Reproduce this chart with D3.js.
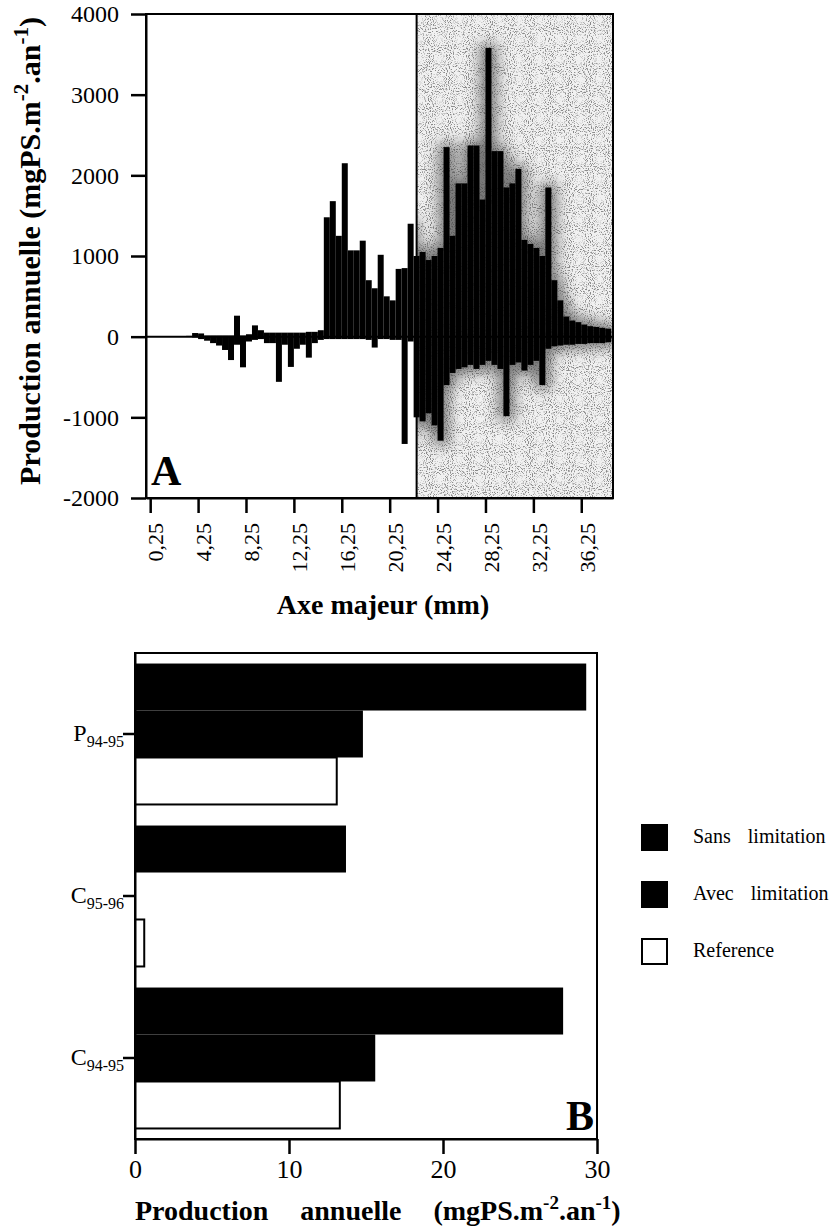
<!DOCTYPE html>
<html>
<head>
<meta charset="utf-8">
<script src="https://cdn.jsdelivr.net/npm/d3@7"></script>
<style>
  body { margin: 0; background: #fff; }
  svg, svg text { font-family: "Liberation Serif", serif; }
</style>
</head>
<body>
<div id="chart"></div>
<script>
// panel A : production per 0.5 mm size class (start of class, mm)
var classStart = [0.25, 0.75, 1.25, 1.75, 2.25, 2.75, 3.25, 3.75, 4.25, 4.75,
    5.25, 5.75, 6.25, 6.75, 7.25, 7.75, 8.25, 8.75, 9.25, 9.75,
    10.25, 10.75, 11.25, 11.75, 12.25, 12.75, 13.25, 13.75, 14.25, 14.75,
    15.25, 15.75, 16.25, 16.75, 17.25, 17.75, 18.25, 18.75, 19.25, 19.75,
    20.25, 20.75, 21.25, 21.75, 22.25, 22.75, 23.25, 23.75, 24.25, 24.75,
    25.25, 25.75, 26.25, 26.75, 27.25, 27.75, 28.25, 28.75, 29.25, 29.75,
    30.25, 30.75, 31.25, 31.75, 32.25, 32.75, 33.25, 33.75, 34.25, 34.75,
    35.25, 35.75, 36.25, 36.75, 37.25, 37.75, 38.25];
var gainVals = [0, 0, 0, 0, 0, 0, 10, 45, 40, 15,
    15, 15, 15, 15, 260, 15, 30, 140, 80, 50,
    50, 50, 50, 50, 50, 50, 60, 60, 80, 1480,
    1680, 1250, 2150, 1070, 1070, 1190, 700, 600, 1015, 500,
    450, 840, 850, 1400, 1000, 1050, 950, 1000, 1100, 2350,
    1250, 1900, 1900, 2370, 2370, 1700, 3580, 2300, 2300, 1850,
    1900, 2080, 1200, 1150, 1100, 1000, 1850, 700, 450, 250,
    200, 180, 150, 130, 120, 110, 100];
var lossVals = [0, 0, 0, 0, 0, 0, 0, -10, -30, -50,
    -80, -110, -165, -290, -100, -380, -60, -40, -30, -80,
    -80, -560, -100, -375, -150, -100, -260, -80, -40, -30,
    -30, -30, -30, -30, -30, -30, -40, -135, -30, -30,
    -40, -40, -1330, -60, -1000, -1050, -950, -1100, -1290, -600,
    -450, -400, -380, -350, -400, -350, -300, -350, -400, -985,
    -350, -320, -420, -350, -300, -600, -150, -120, -110, -100,
    -100, -90, -90, -80, -80, -80, -70];
var xTicksA = [0.25, 4.25, 8.25, 12.25, 16.25, 20.25, 24.25, 28.25, 32.25, 36.25];
var yTicksA = [-2000, -1000, 0, 1000, 2000, 3000, 4000];
var shadeFrom = 22.5;

// panel B
var sites = ["P", "C95", "C94"];
var siteMain = ["P", "C", "C"];
var siteSub = ["94-95", "95-96", "94-95"];
var seriesNames = ["Sans limitation", "Avec limitation", "Reference"];
var sansVals = [29.3, 13.7, 27.8];
var avecVals = [14.8, 0, 15.6];
var refVals = [13.1, 0.6, 13.3];
var xTicksB = [0, 10, 20, 30];

var SERIF = "Liberation Serif";
var width = 830, height = 1229;

var svg = d3.select("#chart").append("svg")
    .attr("width", width)
    .attr("height", height)
    .attr("font-family", SERIF);

var defs = svg.append("defs");
var stip = defs.append("filter").attr("id", "stipple")
    .attr("x", 0).attr("y", 0).attr("width", "100%").attr("height", "100%");
stip.append("feTurbulence").attr("type", "fractalNoise")
    .attr("baseFrequency", 0.95).attr("numOctaves", 1).attr("seed", 4).attr("result", "n");
stip.append("feColorMatrix").attr("in", "n").attr("type", "matrix")
    .attr("values", "0 0 0 0 0  0 0 0 0 0  0 0 0 0 0  6 0 0 0 -3.1").attr("result", "a");
stip.append("feComposite").attr("in", "SourceGraphic").attr("in2", "a").attr("operator", "in");

defs.append("filter").attr("id", "halo")
    .attr("x", "-30%").attr("y", "-30%").attr("width", "160%").attr("height", "160%")
    .append("feGaussianBlur").attr("stdDeviation", 7);

/* ---------- panel A ---------- */
var xA = d3.scaleLinear().domain([-0.1, 38.9]).range([146, 613]);
var yA = d3.scaleLinear().domain([-2000, 4000]).range([498, 14]);
var commaFmt = function (d) { return String(d).replace(".", ","); };

defs.append("clipPath").attr("id", "shadeClip")
    .append("rect")
    .attr("x", xA(shadeFrom)).attr("y", yA(4000))
    .attr("width", xA(38.9) - xA(shadeFrom))
    .attr("height", yA(-2000) - yA(4000));

var gA = svg.append("g");

// shaded zone : light stipple
gA.append("rect")
    .attr("x", xA(shadeFrom)).attr("y", yA(4000))
    .attr("width", xA(38.9) - xA(shadeFrom))
    .attr("height", yA(-2000) - yA(4000))
    .attr("fill", "#f1f1f1");
gA.append("rect")
    .attr("x", xA(shadeFrom)).attr("y", yA(4000))
    .attr("width", xA(38.9) - xA(shadeFrom))
    .attr("height", yA(-2000) - yA(4000))
    .attr("fill", "#8a8a8a")
    .attr("filter", "url(#stipple)");

var bins = classStart.map(function (c, i) {
    return { c: c, gain: gainVals[i], loss: lossVals[i] };
});

function barX(d) { return xA(d.c); }
function barW(d) { return xA(d.c + 0.5) - xA(d.c); }

// blurred halo of the bars inside the shaded zone
var halo = gA.append("g")
    .attr("clip-path", "url(#shadeClip)")
    .append("g")
    .attr("filter", "url(#halo)")
    .attr("opacity", 0.7);
halo.selectAll(".hg").data(bins).enter().append("rect")
    .attr("x", function (d) { return barX(d) - 5; })
    .attr("width", function (d) { return barW(d) + 10; })
    .attr("y", function (d) { return yA(d.gain) - 4; })
    .attr("height", function (d) { return yA(0) - yA(d.gain) + 4; })
    .attr("fill", "#444");
halo.selectAll(".hl").data(bins).enter().append("rect")
    .attr("x", function (d) { return barX(d) - 5; })
    .attr("width", function (d) { return barW(d) + 10; })
    .attr("y", yA(0))
    .attr("height", function (d) { return yA(d.loss) - yA(0) + 4; })
    .attr("fill", "#444");

gA.selectAll(".gain").data(bins).enter().append("rect")
    .attr("class", "gain")
    .attr("x", barX)
    .attr("width", barW)
    .attr("y", function (d) { return yA(d.gain); })
    .attr("height", function (d) { return yA(0) - yA(d.gain); })
    .attr("fill", "#000");

gA.selectAll(".loss").data(bins).enter().append("rect")
    .attr("class", "loss")
    .attr("x", barX)
    .attr("width", barW)
    .attr("y", yA(0))
    .attr("height", function (d) { return yA(d.loss) - yA(0); })
    .attr("fill", "#000");

gA.append("line")
    .attr("x1", xA(-0.1)).attr("x2", xA(38.9))
    .attr("y1", yA(0)).attr("y2", yA(0))
    .attr("stroke", "#000").attr("stroke-width", 2);

// frames
gA.append("rect")
    .attr("x", xA(-0.1)).attr("y", yA(4000))
    .attr("width", xA(38.9) - xA(-0.1))
    .attr("height", yA(-2000) - yA(4000))
    .attr("fill", "none").attr("stroke", "#000").attr("stroke-width", 2);
gA.append("line")
    .attr("x1", xA(shadeFrom)).attr("x2", xA(shadeFrom))
    .attr("y1", yA(4000)).attr("y2", yA(-2000))
    .attr("stroke", "#000").attr("stroke-width", 2);

var yAxisA = gA.append("g")
    .attr("transform", "translate(" + xA(-0.1) + ",0)")
    .call(d3.axisLeft(yA).tickValues(yTicksA).tickSize(15).tickSizeOuter(0).tickPadding(12)
        .tickFormat(function (d) { return String(d); }));

var xAxisA = gA.append("g")
    .attr("transform", "translate(0," + yA(-2000) + ")")
    .call(d3.axisBottom(xA).tickValues(xTicksA).tickSize(15).tickSizeOuter(0).tickFormat(commaFmt));
xAxisA.selectAll("text")
    .attr("transform", "rotate(-90)")
    .attr("text-anchor", "end")
    .attr("x", -25)
    .attr("y", 0)
    .attr("dy", "0.58em");

[yAxisA, xAxisA].forEach(function (ax) {
    ax.attr("font-family", SERIF);
    ax.select(".domain").attr("stroke-width", 2);
    ax.selectAll(".tick line").attr("stroke-width", 2.5);
    ax.selectAll("text").attr("font-family", SERIF).attr("font-size", 22).attr("fill", "#000");
});
yAxisA.selectAll("text").attr("font-size", 24);

gA.append("text")
    .attr("x", 151).attr("y", 485)
    .attr("font-family", SERIF)
    .attr("font-size", 42).attr("font-weight", "bold")
    .text("A");

gA.append("text")
    .attr("x", 383).attr("y", 614)
    .attr("text-anchor", "middle")
    .attr("font-family", SERIF)
    .attr("font-size", 28).attr("font-weight", "bold")
    .text("Axe majeur (mm)");

var yTitle = gA.append("text")
    .attr("transform", "translate(40,251) rotate(-90)")
    .attr("text-anchor", "middle")
    .attr("font-family", SERIF)
    .attr("font-size", 30).attr("font-weight", "bold");
yTitle.append("tspan").text("Production annuelle (mgPS.m");
yTitle.append("tspan").attr("dy", -12).attr("font-size", 21).text("-2");
yTitle.append("tspan").attr("dy", 12).text(".an");
yTitle.append("tspan").attr("dy", -12).attr("font-size", 21).text("-1");
yTitle.append("tspan").attr("dy", 12).text(")");

/* ---------- panel B ---------- */
var xB = d3.scaleLinear().domain([0, 30]).range([135, 597]);
var yB = d3.scaleBand().domain(sites).range([653, 1139])
    .paddingInner(0.13).paddingOuter(0.065);
var ySer = d3.scaleBand().domain(seriesNames).range([0, yB.bandwidth()]);

var gB = svg.append("g");

var rows = sites.map(function (s, i) {
    return [
        { site: s, name: seriesNames[0], v: sansVals[i] },
        { site: s, name: seriesNames[1], v: avecVals[i] },
        { site: s, name: seriesNames[2], v: refVals[i] }
    ];
});
var flat = [].concat.apply([], rows);

gB.selectAll(".barB").data(flat).enter().append("rect")
    .attr("class", "barB")
    .attr("x", xB(0))
    .attr("y", function (d) { return yB(d.site) + ySer(d.name); })
    .attr("width", function (d) { return xB(d.v) - xB(0); })
    .attr("height", ySer.bandwidth())
    .attr("fill", function (d) { return d.name === "Reference" ? "#fff" : "#000"; })
    .attr("stroke", function (d) { return d.name === "Reference" && d.v > 0 ? "#000" : "none"; })
    .attr("stroke-width", 2);

gB.append("rect")
    .attr("x", xB(0)).attr("y", 653)
    .attr("width", xB(30) - xB(0)).attr("height", 1139 - 653)
    .attr("fill", "none").attr("stroke", "#000").attr("stroke-width", 2);

var xAxisB = gB.append("g")
    .attr("transform", "translate(0,1139)")
    .call(d3.axisBottom(xB).tickValues(xTicksB).tickSize(15).tickSizeOuter(0).tickPadding(6)
        .tickFormat(function (d) { return String(d); }));
xAxisB.selectAll("text").attr("font-size", 26);

var yAxisB = gB.append("g")
    .attr("transform", "translate(" + xB(0) + ",0)")
    .call(d3.axisLeft(yB).tickSize(12).tickSizeOuter(0).tickFormat(""));

[xAxisB, yAxisB].forEach(function (ax) {
    ax.attr("font-family", SERIF);
    ax.select(".domain").attr("stroke-width", 2);
    ax.selectAll(".tick line").attr("stroke-width", 2.5);
    ax.selectAll("text").attr("font-family", SERIF).attr("fill", "#000");
});

var labB = gB.selectAll(".labB").data(sites).enter().append("text")
    .attr("class", "labB")
    .attr("x", 124)
    .attr("y", function (d) { return yB(d) + yB.bandwidth() / 2 + 7; })
    .attr("text-anchor", "end")
    .attr("font-family", SERIF)
    .attr("font-size", 24);
labB.append("tspan").text(function (d, i) { return siteMain[i]; });
labB.append("tspan").attr("dy", 6).attr("font-size", 16)
    .text(function (d, i) { return siteSub[i]; });

gB.append("text")
    .attr("x", 594).attr("y", 1130)
    .attr("text-anchor", "end")
    .attr("font-family", SERIF)
    .attr("font-size", 42).attr("font-weight", "bold")
    .text("B");

var xTitleB = gB.append("text")
    .attr("x", 135).attr("y", 1220)
    .attr("font-family", SERIF)
    .attr("font-size", 28).attr("font-weight", "bold")
    .attr("word-spacing", 25);
xTitleB.append("tspan").text("Production annuelle (mgPS.m");
xTitleB.append("tspan").attr("dy", -11).attr("font-size", 19).text("-2");
xTitleB.append("tspan").attr("dy", 11).text(".an");
xTitleB.append("tspan").attr("dy", -11).attr("font-size", 19).text("-1");
xTitleB.append("tspan").attr("dy", 11).text(")");

// legend
var legY = d3.scalePoint().domain(seriesNames).range([825, 939]);
var leg = svg.selectAll(".leg").data(seriesNames).enter().append("g")
    .attr("class", "leg")
    .attr("transform", function (d) { return "translate(642," + legY(d) + ")"; });
leg.append("rect")
    .attr("width", 25).attr("height", 25)
    .attr("fill", function (d) { return d === "Reference" ? "#fff" : "#000"; })
    .attr("stroke", "#000").attr("stroke-width", 2);
leg.append("text")
    .attr("x", 51).attr("y", 18)
    .attr("font-family", SERIF)
    .attr("font-size", 20)
    .attr("word-spacing", 12)
    .text(function (d) { return d; });
</script>
</body>
</html>
